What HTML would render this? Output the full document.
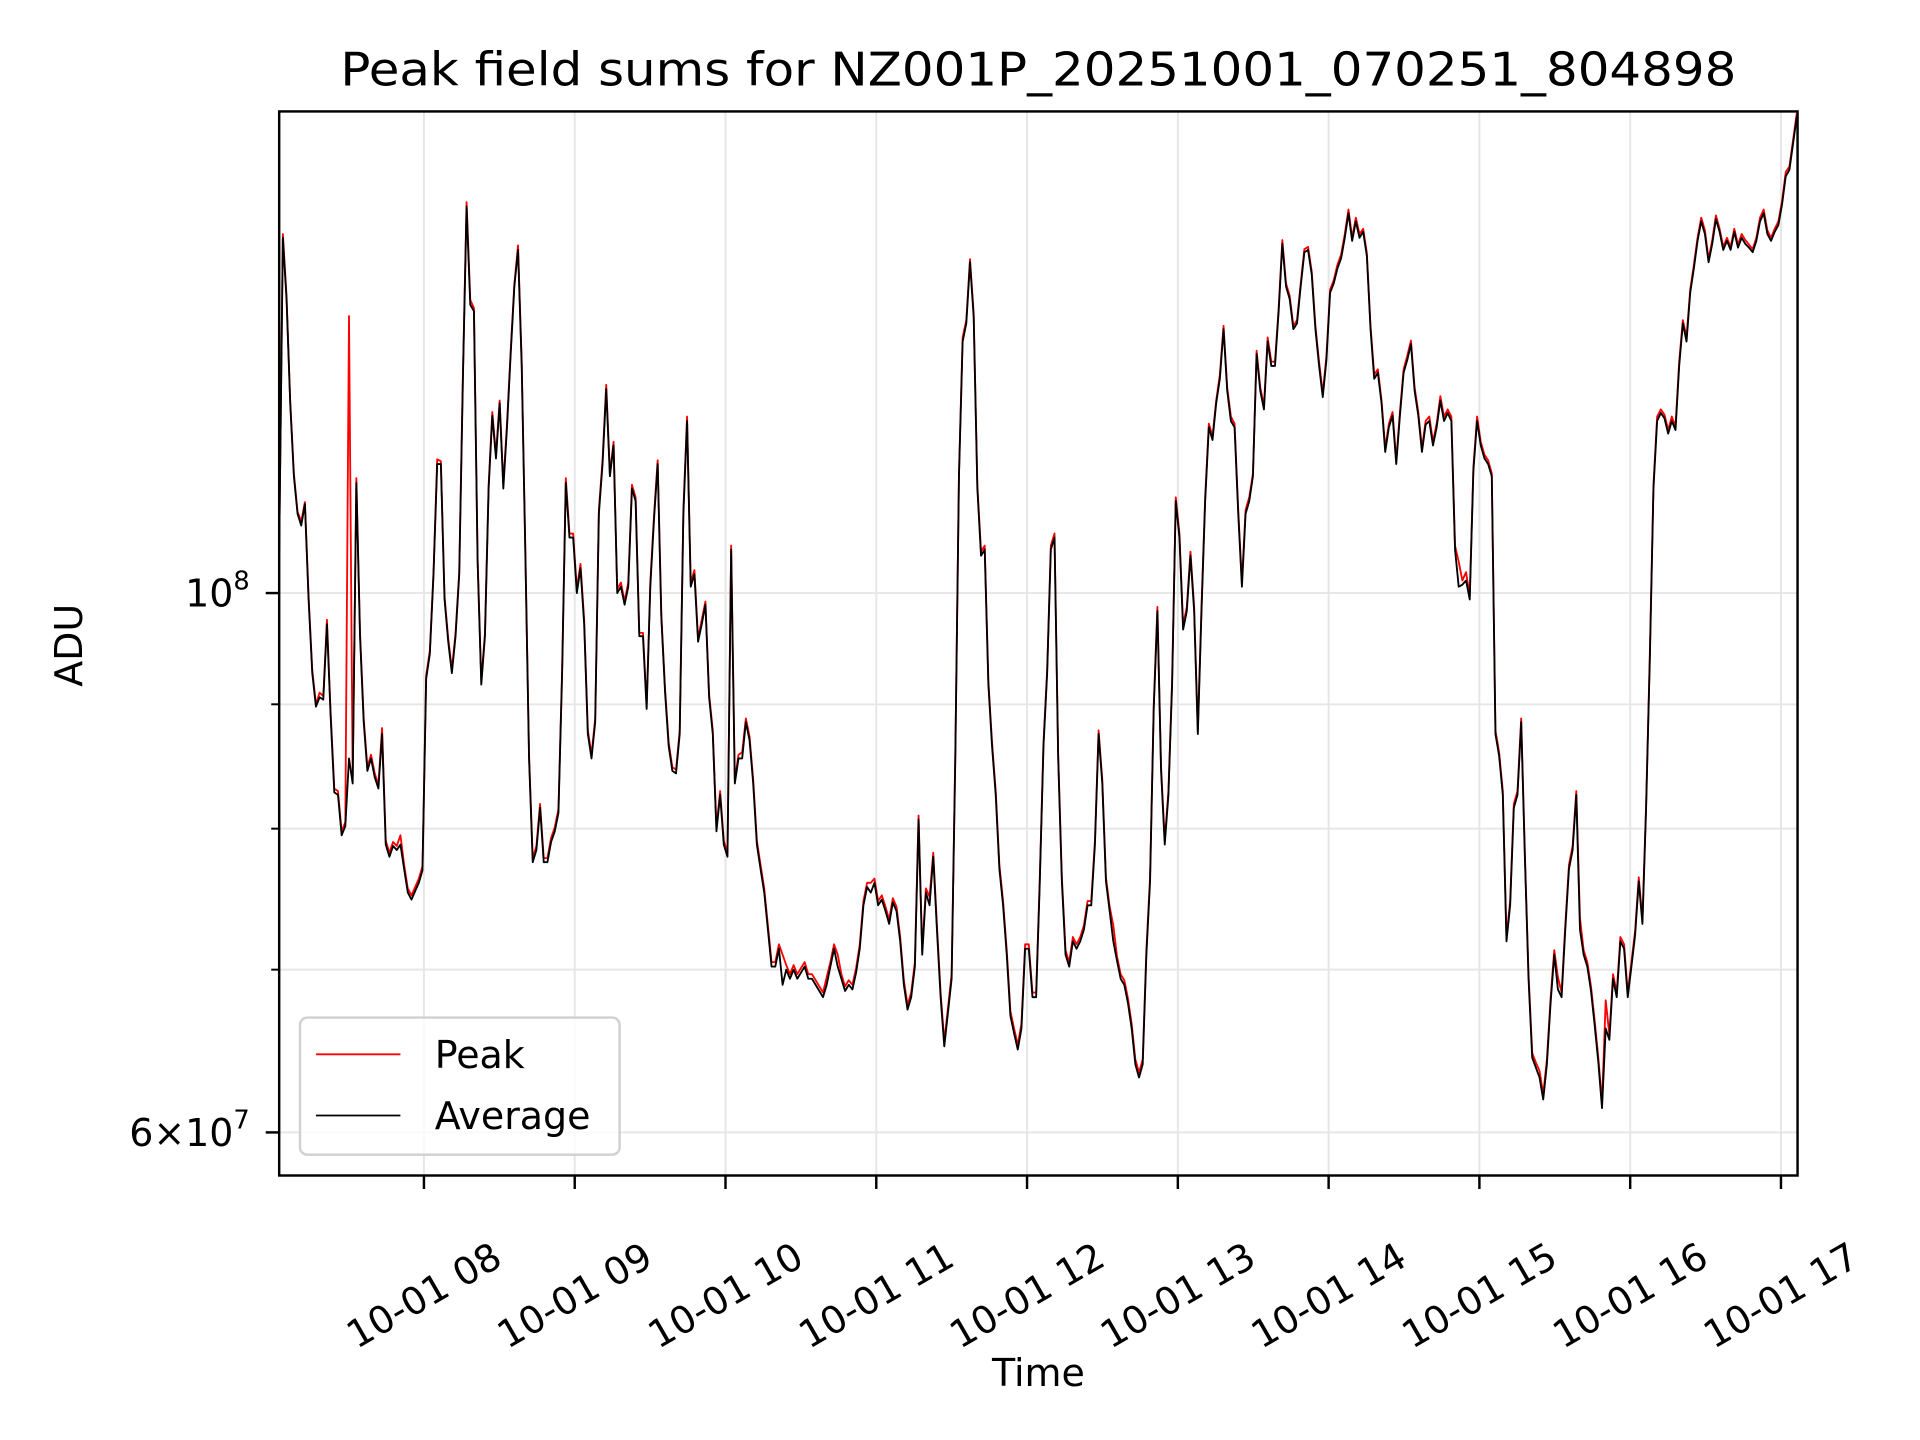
<!DOCTYPE html>
<html><head><meta charset="utf-8"><style>
html,body{margin:0;padding:0;background:#fff;}
svg{display:block;font-family:"DejaVu Sans","Liberation Sans",sans-serif;}
</style></head><body>
<svg id="chart" width="1920" height="1440" viewBox="0 0 1568 1176" preserveAspectRatio="none" xmlns="http://www.w3.org/2000/svg">
<rect x="0" y="0" width="1568" height="1176" fill="#fff"/>
<text x="848" y="70" font-size="38" text-anchor="middle" textLength="1140" lengthAdjust="spacingAndGlyphs">Peak field sums for NZ001P_20251001_070251_804898</text>
<g id="grid"></g>
<g id="series"></g>
<rect x="228" y="91" width="1240" height="869" fill="none" stroke="#000" stroke-width="2"/>
<g id="axes"></g>
<text x="0" y="0" font-size="31" text-anchor="middle" transform="translate(67,527) rotate(-90)">ADU</text>
<text x="848" y="1132" font-size="31" text-anchor="middle">Time</text>
<g>
<rect x="245" y="831" width="261" height="112" rx="6" fill="#fff" fill-opacity="0.8" stroke="#d0d0d0" stroke-width="2"/>
<line x1="258" y1="861" x2="327" y2="861" stroke="#ff0000" stroke-width="1.5"/>
<text x="355" y="872" font-size="31">Peak</text>
<line x1="258" y1="911" x2="327" y2="911" stroke="#000" stroke-width="1.5"/>
<text x="355" y="922" font-size="31">Average</text>
</g>
</svg>
<script>
// time axis: hours of day 2025-10-01
const startHour = 7 + 2.4/60;          // first sample ~07:02
const sampleIntervalMin = 1.4622;      // minutes between samples
const hourTicks = [8,9,10,11,12,13,14,15,16,17];
const hourTickLabels = ["10-01 08","10-01 09","10-01 10","10-01 11","10-01 12","10-01 13","10-01 14","10-01 15","10-01 16","10-01 17"];
const yMajorTicks = [6e7, 1e8];
const yMinorTicks = [7e7, 8e7, 9e7];
// Average ADU (units of 1e7)
const averageValues = [10.4,14.0,13.21,11.97,11.17,10.78,10.66,10.88,9.94,9.27,8.98,9.06,9.04,9.71,8.90,8.28,8.26,7.95,8.02,8.55,8.35,11.10,9.60,8.85,8.45,8.55,8.40,8.31,8.75,7.88,7.79,7.87,7.84,7.88,7.70,7.53,7.48,7.54,7.60,7.69,9.22,9.44,10.18,11.30,11.30,9.94,9.55,9.27,9.60,10.18,12.25,14.42,13.14,13.06,10.30,9.17,9.60,11.04,11.83,11.36,11.97,11.04,11.70,12.54,13.37,13.84,12.40,10.36,8.55,7.75,7.84,8.16,7.75,7.75,7.90,7.98,8.12,9.27,11.10,10.54,10.54,10.00,10.24,9.71,8.75,8.55,8.85,10.78,11.30,12.13,11.17,11.50,10.00,10.06,9.89,10.06,11.04,10.91,9.60,9.60,8.96,10.06,10.72,11.30,9.77,9.11,8.65,8.45,8.43,8.75,10.78,11.77,10.06,10.18,9.55,9.71,9.89,9.06,8.75,7.98,8.26,7.88,7.79,10.42,8.35,8.55,8.55,8.85,8.70,8.35,7.88,7.70,7.53,7.27,7.02,7.02,7.14,6.90,7.00,6.94,7.00,6.94,6.98,7.02,6.94,6.94,6.90,6.86,6.82,6.90,7.02,7.14,7.02,6.94,6.86,6.90,6.87,6.98,7.14,7.44,7.57,7.53,7.60,7.44,7.48,7.40,7.31,7.46,7.40,7.19,6.90,6.74,6.82,7.02,8.07,7.10,7.53,7.44,7.79,7.27,6.82,6.51,6.72,6.94,8.55,11.17,12.69,12.91,13.68,12.99,11.04,10.36,10.42,9.17,8.65,8.26,7.70,7.44,7.10,6.70,6.59,6.49,6.62,7.14,7.14,6.82,6.82,7.61,8.65,9.27,10.42,10.54,8.55,7.61,7.10,7.02,7.19,7.14,7.19,7.27,7.44,7.44,7.88,8.75,8.35,7.61,7.40,7.19,7.06,6.94,6.90,6.78,6.62,6.40,6.32,6.40,7.10,7.61,8.96,9.83,8.45,7.88,8.26,9.17,10.91,10.54,9.66,9.83,10.36,9.83,8.75,9.83,10.91,11.70,11.56,11.97,12.25,12.84,12.11,11.77,11.70,10.78,10.06,10.78,10.91,11.17,12.54,12.11,11.90,12.69,12.40,12.40,13.06,13.92,13.37,13.21,12.84,12.91,13.37,13.81,13.84,13.52,12.84,12.40,12.04,12.47,13.29,13.41,13.60,13.73,14.00,14.33,13.96,14.22,14.00,14.08,13.76,12.84,12.25,12.32,11.97,11.43,11.70,11.83,11.30,11.83,12.32,12.47,12.66,12.11,11.83,11.43,11.73,11.77,11.50,11.70,12.00,11.77,11.86,11.77,10.42,10.06,10.08,10.12,9.94,11.23,11.77,11.50,11.36,11.30,11.17,8.75,8.57,8.26,7.19,7.44,8.16,8.26,8.85,7.79,6.94,6.44,6.38,6.32,6.19,6.40,6.78,7.10,6.87,6.82,7.27,7.70,7.84,8.26,7.27,7.10,7.02,6.86,6.64,6.41,6.14,6.62,6.55,6.94,6.82,7.19,7.14,6.82,7.02,7.23,7.61,7.31,8.16,9.38,11.04,11.77,11.86,11.80,11.63,11.77,11.67,12.40,12.91,12.69,13.29,13.60,13.96,14.22,14.05,13.68,13.92,14.25,14.08,13.84,13.96,13.84,14.08,13.87,14.00,13.92,13.87,13.81,13.96,14.22,14.33,14.05,13.96,14.08,14.17,14.45,14.84,14.93,15.31,15.70];
// Peak ADU (units of 1e7)
const peakValues = [10.4,14.05,13.25,12.0,11.2,10.8,10.7,10.9,9.97,9.3,9.0,9.1,9.07,9.75,8.93,8.31,8.29,7.98,8.05,13.0,8.4,11.15,9.63,8.88,8.48,8.58,8.43,8.34,8.8,7.91,7.82,7.9,7.87,7.95,7.73,7.56,7.51,7.57,7.63,7.72,9.25,9.47,10.2,11.35,11.33,9.97,9.58,9.3,9.63,10.2,12.3,14.48,13.2,13.1,10.33,9.2,9.63,11.08,11.87,11.4,12.0,11.08,11.74,12.58,13.4,13.9,12.45,10.4,8.58,7.78,7.87,8.19,7.78,7.78,7.93,8.01,8.15,9.3,11.15,10.58,10.58,10.04,10.28,9.75,8.78,8.58,8.88,10.82,11.34,12.18,11.2,11.54,10.04,10.1,9.92,10.1,11.08,10.95,9.63,9.63,8.99,10.1,10.76,11.34,9.8,9.14,8.68,8.48,8.46,8.78,10.82,11.82,10.1,10.22,9.58,9.75,9.92,9.09,8.78,8.01,8.29,7.91,7.82,10.46,8.38,8.58,8.6,8.88,8.73,8.38,7.91,7.73,7.56,7.3,7.05,7.05,7.17,7.1,7.03,6.97,7.03,6.97,7.01,7.05,6.97,6.97,6.93,6.89,6.85,6.95,7.05,7.17,7.1,6.97,6.89,6.93,6.9,7.01,7.17,7.47,7.6,7.6,7.63,7.47,7.51,7.43,7.34,7.49,7.43,7.22,6.93,6.77,6.85,7.05,8.1,7.13,7.56,7.5,7.82,7.3,6.85,6.54,6.75,6.97,8.58,11.2,12.74,12.95,13.72,13.03,11.08,10.4,10.46,9.2,8.68,8.29,7.73,7.47,7.13,6.73,6.62,6.52,6.65,7.17,7.17,6.85,6.85,7.64,8.68,9.3,10.46,10.58,8.58,7.64,7.13,7.05,7.22,7.17,7.22,7.3,7.47,7.47,7.91,8.78,8.38,7.64,7.43,7.3,7.09,6.97,6.93,6.81,6.65,6.43,6.35,6.43,7.13,7.64,8.99,9.87,8.48,7.91,8.29,9.2,10.95,10.58,9.7,9.87,10.4,9.87,8.78,9.87,10.95,11.74,11.6,12.0,12.3,12.88,12.15,11.82,11.74,10.82,10.1,10.82,10.95,11.2,12.58,12.15,11.94,12.74,12.45,12.45,13.1,13.97,13.41,13.25,12.88,12.95,13.41,13.85,13.88,13.56,12.88,12.45,12.08,12.52,13.33,13.45,13.65,13.78,14.05,14.38,14.0,14.27,14.05,14.12,13.8,12.88,12.3,12.36,12.0,11.47,11.74,11.87,11.34,11.87,12.36,12.52,12.7,12.15,11.87,11.47,11.77,11.82,11.54,11.74,12.05,11.82,11.9,11.82,10.46,10.3,10.12,10.2,9.97,11.27,11.82,11.54,11.4,11.34,11.2,8.78,8.6,8.29,7.22,7.47,8.19,8.29,8.88,7.82,6.97,6.47,6.41,6.36,6.22,6.43,6.81,7.13,6.95,6.85,7.3,7.73,7.87,8.29,7.35,7.13,7.05,6.89,6.67,6.44,6.17,6.8,6.58,6.97,6.85,7.22,7.17,6.85,7.05,7.26,7.64,7.34,8.19,9.42,11.08,11.82,11.9,11.84,11.67,11.82,11.71,12.45,12.95,12.74,13.33,13.65,14.0,14.27,14.1,13.72,13.97,14.3,14.12,13.88,14.0,13.88,14.12,13.91,14.05,13.97,13.91,13.85,14.0,14.27,14.38,14.1,14.0,14.12,14.22,14.5,14.9,14.98,15.36,15.75];

const NS = "http://www.w3.org/2000/svg";
const PX0 = 228, PX1 = 1468, PY0 = 91, PY1 = 960;
const T0 = 7 + 2.4/60, T1 = 17 + 6.6/60;
const V0 = 5.76e7, V1 = 1.578e8;
function xScale(h){ return PX0 + (h - T0) / (T1 - T0) * (PX1 - PX0); }
function yScale(v){ return PY1 - (Math.log10(v) - Math.log10(V0)) / (Math.log10(V1) - Math.log10(V0)) * (PY1 - PY0); }
function mk(tag, attrs, parent){ const e = document.createElementNS(NS, tag); for (const k in attrs) e.setAttribute(k, attrs[k]); parent.appendChild(e); return e; }

const grid = document.getElementById('grid');
const axes = document.getElementById('axes');
const series = document.getElementById('series');

hourTicks.forEach((h, i) => {
  const x = xScale(h);
  const g = mk('line', {x1:x, y1:PY0, x2:x, y2:PY1, stroke:'#e6e6e6', 'stroke-width':1.6}, grid);
  
  
  const t = mk('line', {x1:x, y1:PY1, x2:x, y2:PY1 + 11, stroke:'#000', 'stroke-width':2}, axes);
  
  
  const lab = mk('text', {x:0, y:0, 'font-size':31, 'text-anchor':'middle', 'dominant-baseline':'central', transform:'translate(' + x + ',1058) rotate(-30)'}, axes);
  lab.textContent = hourTickLabels[i];
  
  
});

yMajorTicks.concat(yMinorTicks).forEach(v => {
  const y = yScale(v);
  const g = mk('line', {x1:PX0, y1:y, x2:PX1, y2:y, stroke:'#e6e6e6', 'stroke-width':1.6}, grid);
  
  
  const major = yMajorTicks.indexOf(v) >= 0;
  const t = mk('line', {x1:PX0 - (major ? 11 : 6.5), y1:y, x2:PX0, y2:y, stroke:'#000', 'stroke-width':major ? 2 : 1.6}, axes);
  
  
});

function yLabel(v, parts){
  const y = yScale(v);
  const t = mk('text', {x:204, y:y + 11, 'font-size':31, 'text-anchor':'end'}, axes);
  
  
  const a = mk('tspan', {}, t); a.textContent = parts[0];
  const b = mk('tspan', {'font-size':21, dy:-14}, t); b.textContent = parts[1];
}
yLabel(1e8, ['10', '8']);
yLabel(6e7, ['6\u00d710', '7']);

function linePath(vals){
  return vals.map((v, i) => {
    const h = startHour + i * sampleIntervalMin / 60;
    return (i ? 'L' : 'M') + xScale(h).toFixed(2) + ',' + yScale(v * 1e7).toFixed(2);
  }).join('');
}
const clip = mk('clipPath', {id:'plotclip'}, document.getElementById('chart'));
mk('rect', {x:PX0, y:PY0, width:PX1 - PX0, height:PY1 - PY0}, clip);
const pk = mk('path', {d:linePath(peakValues), fill:'none', stroke:'#ff0000', 'stroke-width':1.5, 'stroke-linejoin':'round', 'clip-path':'url(#plotclip)'}, series);


const av = mk('path', {d:linePath(averageValues), fill:'none', stroke:'#000', 'stroke-width':1.5, 'stroke-linejoin':'round', 'clip-path':'url(#plotclip)'}, series);


</script>
</body></html>
